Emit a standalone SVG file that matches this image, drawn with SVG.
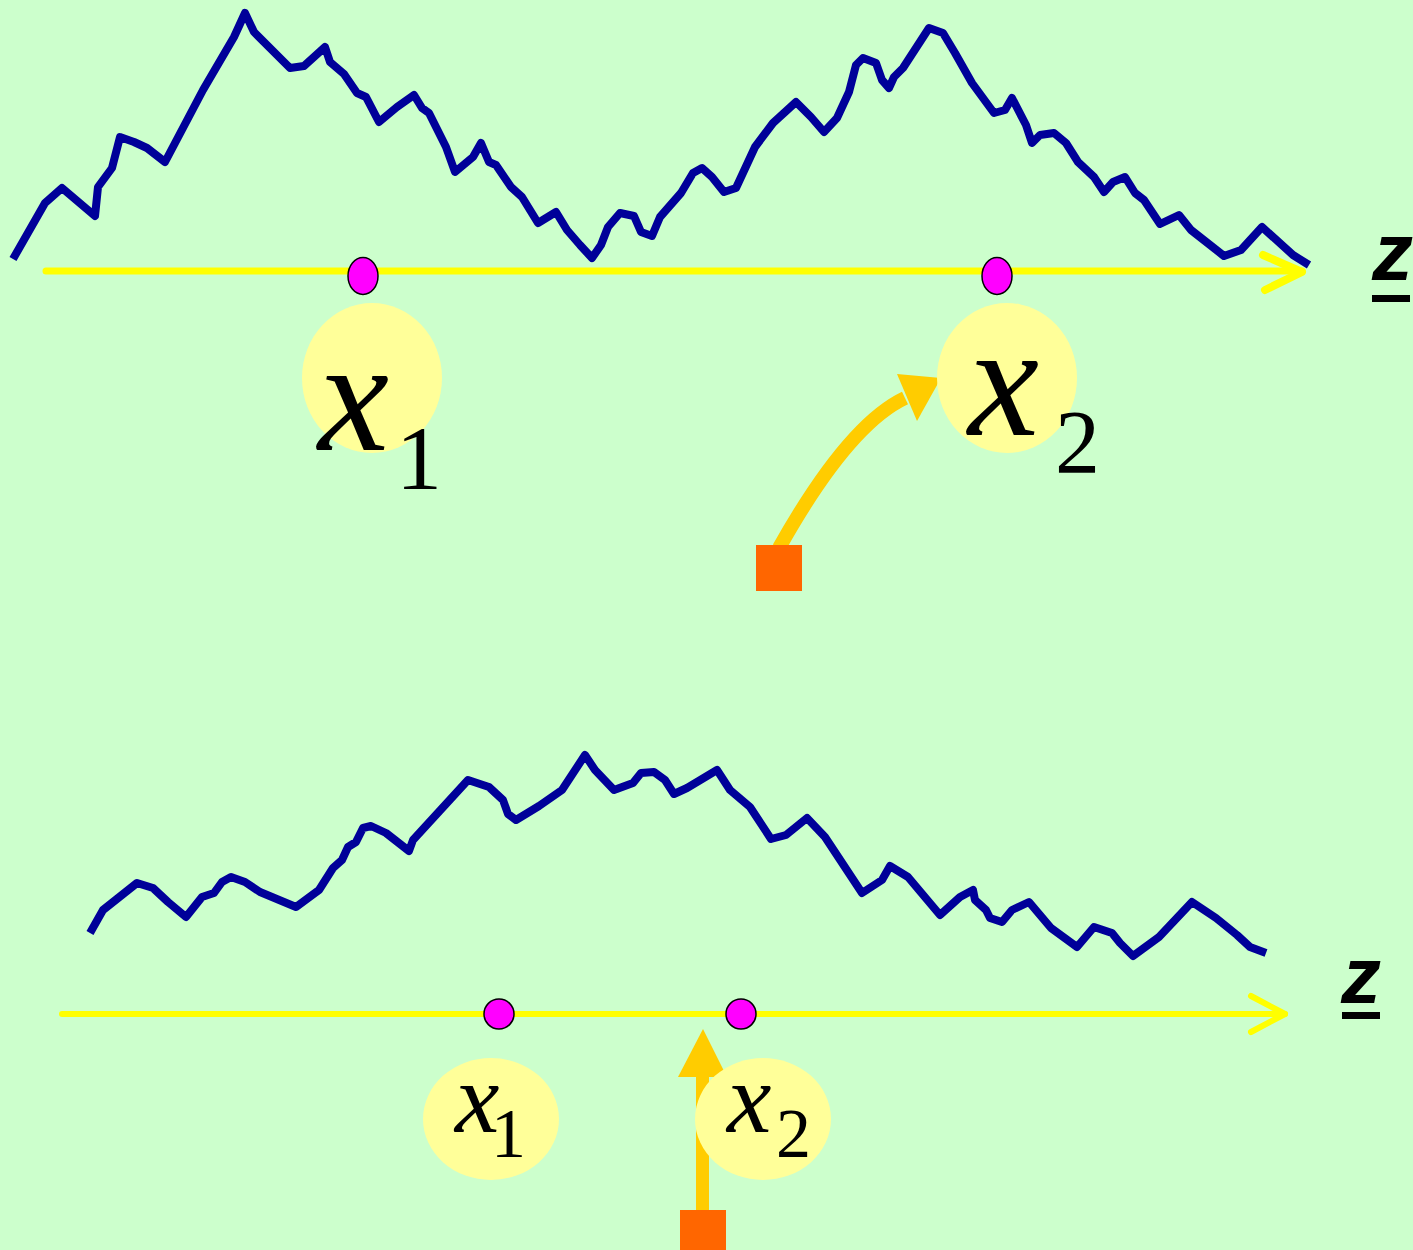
<svg xmlns="http://www.w3.org/2000/svg" width="1413" height="1250" viewBox="0 0 1413 1250">
  <style>
    .walk{fill:none;stroke:#000099;stroke-width:8;stroke-linejoin:round;stroke-linecap:butt}
    .axis{fill:none;stroke:#FFFF00;stroke-linecap:round;stroke-linejoin:round}
    .dot{fill:#FF00FF;stroke:#000;stroke-width:1.5}
    .halo{fill:#FFFF99}
    .arrow{fill:#FFCC00}
    .src{fill:#FF6600}
    .var{font-family:"Liberation Serif","Times New Roman",serif;font-style:italic;fill:#000}
    .sub{font-family:"Liberation Serif","Times New Roman",serif;fill:#000}
    .z{font-family:"Liberation Sans",Arial,sans-serif;font-style:italic;font-weight:bold;fill:#000}
  </style>
  <rect width="1413" height="1250" fill="#CCFFCC"/>

  <g id="connectors">
    <!-- random walk curves -->
    <polyline class="walk" points="13,259 45,203 62,188 95,216 98,187 112,168 120,137 134,142 147,148 165,162 203,90 234,37 245,13 254,32 290,68 304,66 325,47 330,62 344,74 357,93 366,97 379,122 397,107 414,95 422,108 429,113 446,147 455,172 473,157 481,143 489,162 496,165 511,187 522,197 538,223 556,212 567,230 580,245 592,258 601,245 608,227 620,213 634,216 641,232 652,236 660,217 681,193 693,173 702,168 712,177 724,192 736,188 755,147 773,123 796,102 811,117 824,132 837,118 849,92 856,65 863,58 876,63 882,80 889,88 894,77 903,68 929,28 943,33 955,53 972,83 994,113 1005,110 1012,98 1026,125 1032,143 1040,135 1054,133 1066,143 1078,162 1094,177 1104,192 1113,182 1125,177 1135,193 1144,200 1160,224 1179,215 1191,230 1224,256 1241,250 1262,227 1293,255 1309,265"/>
    <polyline class="walk" points="90,933 103,910 137,883 153,888 168,902 186,917 202,897 214,893 222,882 231,877 245,882 260,892 296,907 319,890 333,868 342,860 348,847 356,842 363,828 371,826 386,833 409,851 413,840 424,828 468,780 489,787 503,800 508,814 516,820 539,806 562,790 585,755 595,770 614,790 633,783 641,773 654,772 665,780 674,794 687,788 717,770 730,790 750,807 771,839 786,835 807,818 825,837 862,893 882,880 890,866 908,877 940,915 960,897 973,890 975,900 986,910 990,918 1002,922 1012,910 1029,902 1051,928 1077,947 1094,927 1112,933 1120,943 1133,956 1159,937 1192,902 1216,918 1237,935 1250,947 1266,953"/>

    <!-- axes -->
    <line class="axis" x1="46" y1="271" x2="1302" y2="271" stroke-width="7" stroke-linecap="butt"/>
    <polyline class="axis" points="1263,255 1302,272 1265,290" stroke-width="8"/>
    <line class="axis" x1="62" y1="1014" x2="1285" y2="1014" stroke-width="6" stroke-linecap="butt"/>
    <polyline class="axis" points="1251,996 1285,1014 1251,1032" stroke-width="6"/>

    <!-- source arrows -->
    <path d="M779,548 Q848,425 905,398" fill="none" stroke="#FFCC00" stroke-width="14"/>
    <polygon class="arrow" points="897,374 941,378 917,421"/>
    <rect x="696" y="1070" width="13" height="145" class="arrow"/>
    <polygon class="arrow" points="703,1029 727,1077 678,1077"/>
  </g>

  <g id="source-top"><rect class="src" x="756" y="545" width="46" height="46"/></g>
  <g id="source-bottom"><rect class="src" x="680" y="1210" width="46" height="45"/></g>

  <g id="top-x1">
    <ellipse class="dot" cx="363" cy="276" rx="15" ry="18.5"/>
    <ellipse class="halo" cx="372" cy="378" rx="70" ry="75"/>
    <text class="var" x="318" y="450" font-size="160">x</text>
    <text class="sub" x="396" y="489" font-size="92">1</text>
  </g>
  <g id="top-x2">
    <ellipse class="dot" cx="997" cy="276" rx="15" ry="18.5"/>
    <ellipse class="halo" cx="1007" cy="378" rx="70" ry="75"/>
    <text class="var" x="968" y="435" font-size="160">x</text>
    <text class="sub" x="1055" y="473" font-size="90">2</text>
  </g>
  <g id="top-z">
    <text class="z" x="1372" y="280" font-size="82">z</text>
    <rect x="1372" y="295" width="38" height="7" fill="#000"/>
  </g>

  <g id="bottom-x1">
    <circle class="dot" cx="499" cy="1014" r="15"/>
    <ellipse class="halo" cx="491" cy="1119" rx="68" ry="61"/>
    <text class="var" x="455" y="1132" font-size="100">x</text>
    <text class="sub" x="491" y="1157" font-size="70">1</text>
  </g>
  <g id="bottom-x2">
    <circle class="dot" cx="741" cy="1014" r="15"/>
    <ellipse class="halo" cx="763" cy="1119" rx="68" ry="61"/>
    <text class="var" x="727" y="1132" font-size="100">x</text>
    <text class="sub" x="776" y="1157" font-size="70">2</text>
  </g>
  <g id="bottom-z">
    <text class="z" x="1341" y="1003" font-size="80">z</text>
    <rect x="1342" y="1012" width="38" height="7" fill="#000"/>
  </g>
</svg>
